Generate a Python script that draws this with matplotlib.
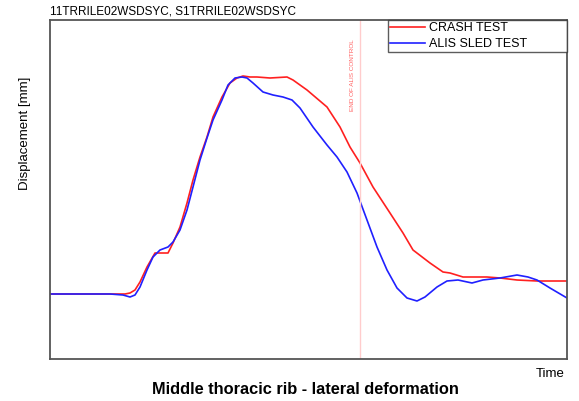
import matplotlib.pyplot as plt

plt.rcParams['font.family'] = ['Liberation Sans', 'DejaVu Sans']

# valores (unidades arbitrarias)
t_crash = [0, 60, 75, 80, 85, 90, 97, 105, 113, 118, 123, 130, 137, 143, 150, 157, 163, 172, 180, 187, 193, 200,
           207, 220, 237, 243, 257, 277, 290, 300, 310, 323, 340, 353, 363, 380, 393, 400, 413, 437, 450, 467, 487, 517]
d_crash = [65, 65, 65, 66, 69, 77, 92, 106, 106, 106, 116, 132, 156, 179, 202, 222, 242, 262, 276, 281, 283, 282,
           282, 281, 282, 279, 269, 252, 232, 212, 196, 172, 146, 126, 109, 96, 87, 86, 82, 82, 81, 79, 78, 78]
t_alis = [0, 60, 73, 80, 85, 90, 97, 103, 110, 118, 123, 130, 137, 143, 150, 157, 163, 172, 178, 185, 192, 197,
          203, 213, 223, 233, 242, 250, 263, 277, 287, 297, 307, 317, 327, 337, 347, 357, 367, 375, 387, 397,
          408, 422, 433, 450, 467, 478, 487, 500, 517]
d_alis = [65, 65, 64, 62, 64, 72, 89, 102, 109, 112, 117, 129, 149, 172, 199, 221, 239, 259, 274, 281, 282, 281,
          276, 267, 264, 262, 259, 251, 232, 214, 202, 187, 166, 139, 112, 89, 71, 61, 58, 62, 72, 78,
          79, 76, 79, 81, 84, 82, 79, 71, 61]
t_end = 310

fig = plt.figure(figsize=(5.79, 4.01), dpi=100)
ax = fig.add_axes([50/579, 42/401, 517/579, 339/401])

ax.plot(t_crash, d_crash, color='#ff2020', lw=1.2, label='CRASH TEST')
ax.plot(t_alis, d_alis, color='#2020ff', lw=1.2, label='ALIS SLED TEST')
ax.axvline(t_end, color='#ffcccc', lw=1)
ax.text(t_end - 7, 320, 'END OF ALIS CONTROL', rotation=90, ha='center', va='top',
        fontsize=4.6, color='#ff6060')

ax.set_xlim(0, 517)
ax.set_ylim(0, 339)
ax.set_xticks([])
ax.set_yticks([])
for s in ax.spines.values():
    s.set_color('#555555')
    s.set_linewidth(1.3)

leg = ax.legend(loc='upper left', bbox_to_anchor=(0.654, 0.903, 0.346, 0.097), mode='expand',
                fontsize=9, frameon=True, fancybox=False, borderaxespad=0, handlelength=2.8,
                handletextpad=0.3, borderpad=0.15, labelspacing=0.36)
leg.get_frame().set_edgecolor('#333333')
leg.get_frame().set_linewidth(1)

fig.text(50/579, 1 - 11/401, '11TRRILE02WSDSYC, S1TRRILE02WSDSYC', fontsize=8.5, va='center', ha='left')
fig.text(25/579, 1 - 133/401, 'Displacement [mm]', rotation=90, fontsize=9.5, va='center', ha='center')
fig.text(565/579, 1 - 374/401, 'Time', fontsize=9.5, va='center', ha='right')
fig.text(305/579, 1 - 389/401, 'Middle thoracic rib - lateral deformation', fontsize=11.8,
         fontweight='bold', va='center', ha='center')

plt.savefig('out.png', dpi=100)
